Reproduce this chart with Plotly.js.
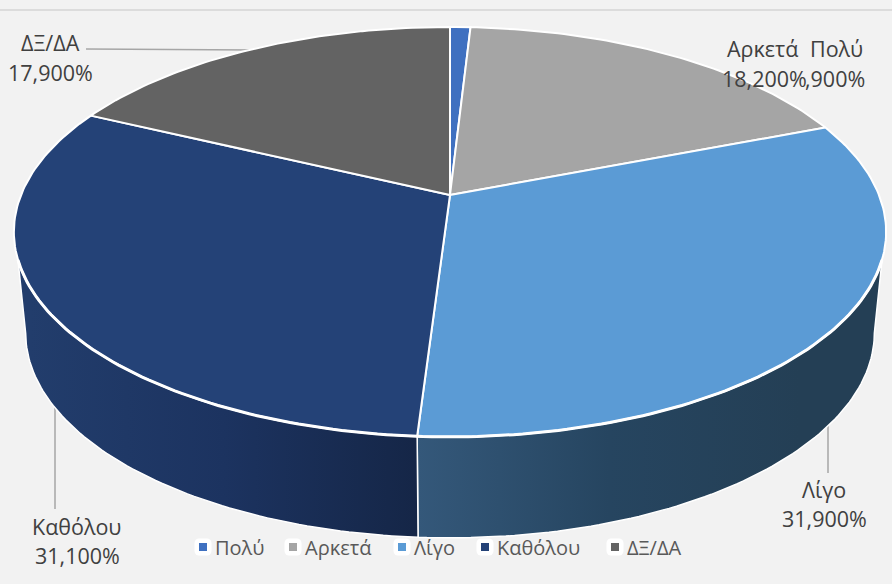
<!DOCTYPE html>
<html>
<head>
<meta charset="utf-8">
<script src="https://cdn.plot.ly/plotly-3.0.1.min.js"></script>
<style>html,body{margin:0;padding:0;background:#f2f2f2;overflow:hidden}#chart{width:892px;height:584px}</style>
</head>
<body>
<div id="chart"></div>
<script>
// Data
const categories = ['Πολύ', 'Αρκετά', 'Λίγο', 'Καθόλου', 'ΔΞ/ΔΑ'];
const shares = [0.9, 18.2, 31.9, 31.1, 17.9];
const sliceColors = ['#3f70c0', '#a5a5a5', '#5b9bd5', '#244277', '#636363'];

// Data labels: [text line, centre x, centre y]
const labelLines = [
  ['ΔΞ/ΔΑ', 50, 42], ['17,900%', 50, 72],
  ['Αρκετά', 762, 48], ['18,200%', 764, 78],
  ['Πολύ', 836, 48], [',900%', 835, 78],
  ['Λίγο', 824, 489], ['31,900%', 824, 518],
  ['Καθόλου', 77, 526], ['31,100%', 77, 555]
];

// Left edge of each legend text, in pixels
const legendTextX = [215, 305, 414, 497, 627];

// Projection of the tilted disc (pixels of the 892x584 plot area)
const view = {cx: 450, cy: 195, rx: 429, ry: 198.3, k: 0.18, depth: 101, shrink: 0.973};

function topPoint(deg) {
  const t = deg * Math.PI / 180, w = 1 + view.k * Math.cos(t);
  return [view.cx + view.rx * Math.sin(t) / w, view.cy - view.ry * Math.cos(t) / w];
}
function bottomPoint(deg) {
  const p = topPoint(deg);
  return [view.cx + (p[0] - view.cx) * view.shrink, p[1] + view.depth];
}
function arc(fn, a, b) {
  const n = Math.max(2, Math.ceil(Math.abs(b - a))), out = [];
  for (let i = 0; i <= n; i++) out.push(fn(a + (b - a) * i / n));
  return out;
}

// cumulative slice angles, clockwise from the top
const edges = [0];
shares.forEach(v => edges.push(edges[edges.length - 1] + v));
const total = edges[edges.length - 1];
edges.forEach((e, i) => edges[i] = e * 360 / total);

const traces = [];

// Side wall of the two slices that face the viewer
function wall(name, topA, topB, botA, botB, stops, start, stop) {
  const pts = arc(topPoint, topA, topB).concat(arc(bottomPoint, botB, botA));
  pts.push(pts[0]);
  traces.push({
    type: 'scatter', mode: 'lines', name: name, showlegend: false, hoverinfo: 'name',
    x: pts.map(p => p[0]), y: pts.map(p => p[1]),
    fill: 'toself', line: {color: '#ffffff', width: 1.5},
    fillgradient: {type: 'horizontal', colorscale: stops, start: start, stop: stop}
  });
}
wall(categories[2], 108, edges[3], 100.4, edges[3],
  [[0, '#34587a'], [0.5, '#264560'], [1, '#243f55']], 418, 800);
wall(categories[3], edges[3], 252, edges[3], 259.6,
  [[0, '#223d6c'], [0.5, '#1c3360'], [1, '#152647']], 30, 418);

// Top face slices
categories.forEach((name, i) => {
  const pts = [[view.cx, view.cy]].concat(arc(topPoint, edges[i], edges[i + 1]));
  pts.push(pts[0]);
  traces.push({
    type: 'scatter', mode: 'lines', name: name, showlegend: false,
    hovertemplate: name + ': ' + shares[i].toFixed(3).replace('.', ',') + '%<extra></extra>',
    x: pts.map(p => p[0]), y: pts.map(p => p[1]),
    fill: 'toself', fillcolor: sliceColors[i], line: {color: '#ffffff', width: 2}
  });
});

// Brighter rim where the top face meets the wall
const rim = arc(topPoint, 108, 252);
traces.push({
  type: 'scatter', mode: 'lines', showlegend: false, hoverinfo: 'skip',
  x: rim.map(p => p[0]), y: rim.map(p => p[1]),
  line: {color: '#ffffff', width: 3}
});

// Legend keys
categories.forEach((name, i) => {
  traces.push({
    type: 'scatter', mode: 'markers', name: name, x: [null], y: [null], hoverinfo: 'skip',
    marker: {symbol: 'square', size: 8, color: sliceColors[i], line: {color: '#ffffff', width: 3}}
  });
});

const textColor = '#404040';
const leader = (x0, y0, x1, y1) => ({
  type: 'line', xref: 'x', yref: 'y', x0, y0, x1, y1, layer: 'below',
  line: {color: '#a6a6a6', width: 1.5}
});

const legendLeft = 190;
const layout = {
  width: 892, height: 584,
  margin: {l: 0, r: 0, t: 0, b: 0},
  paper_bgcolor: '#f2f2f2', plot_bgcolor: '#f2f2f2',
  xaxis: {range: [0, 892], visible: false, fixedrange: true},
  yaxis: {range: [584, 0], visible: false, fixedrange: true},
  font: {family: '"Open Sans", "Noto Sans", sans-serif', color: textColor},
  showlegend: true,
  legend: {
    orientation: 'h', x: legendLeft / 892, y: 1 - 547 / 584, xref: 'paper', yref: 'paper',
    xanchor: 'left', yanchor: 'middle',
    bgcolor: 'rgba(0,0,0,0)', font: {size: 20, color: '#595959'},
    itemwidth: 30, itemclick: false, itemdoubleclick: false
  },
  shapes: [
    {type: 'line', xref: 'x', yref: 'y', x0: 0, x1: 892, y0: 10, y1: 10, line: {color: '#dcdcdc', width: 2}},
    leader(86, 49, 254, 50),
    leader(55, 402, 55, 509),
    leader(828, 422, 828, 473)
  ],
  annotations: labelLines.map(l => ({
    x: l[1], y: l[2], xref: 'x', yref: 'y', text: l[0], showarrow: false,
    xanchor: 'center', yanchor: 'middle', font: {size: 21.5, color: textColor}
  }))
};

Plotly.newPlot('chart', traces, layout, {displayModeBar: false, responsive: false}).then(gd => {
  // Tighten the legend spacing and give each key its white rounded tile
  const items = gd.querySelectorAll('.legend .traces');
  const box = gd.querySelector('.legend').getBoundingClientRect();
  items.forEach((item, i) => {
    const text = item.querySelector('.legendtext');
    const textX = parseFloat(text.getAttribute('x')) || 0;
    const yMatch = /,\s*([-\d.]+)\)/.exec(item.getAttribute('transform') || '');
    const itemY = yMatch ? yMatch[1] : 0;
    item.setAttribute('transform', 'translate(' + (legendTextX[i] - box.left - textX) + ',' + itemY + ')');
    const key = item.querySelector('.legendpoints path');
    if (key) {
      key.setAttribute('transform', 'translate(' + (textX - 12) + ',0)');
      key.style.paintOrder = 'stroke';
      key.style.strokeWidth = '9px';
      key.style.strokeLinejoin = 'round';
    }
  });
});
</script>
</body>
</html>
